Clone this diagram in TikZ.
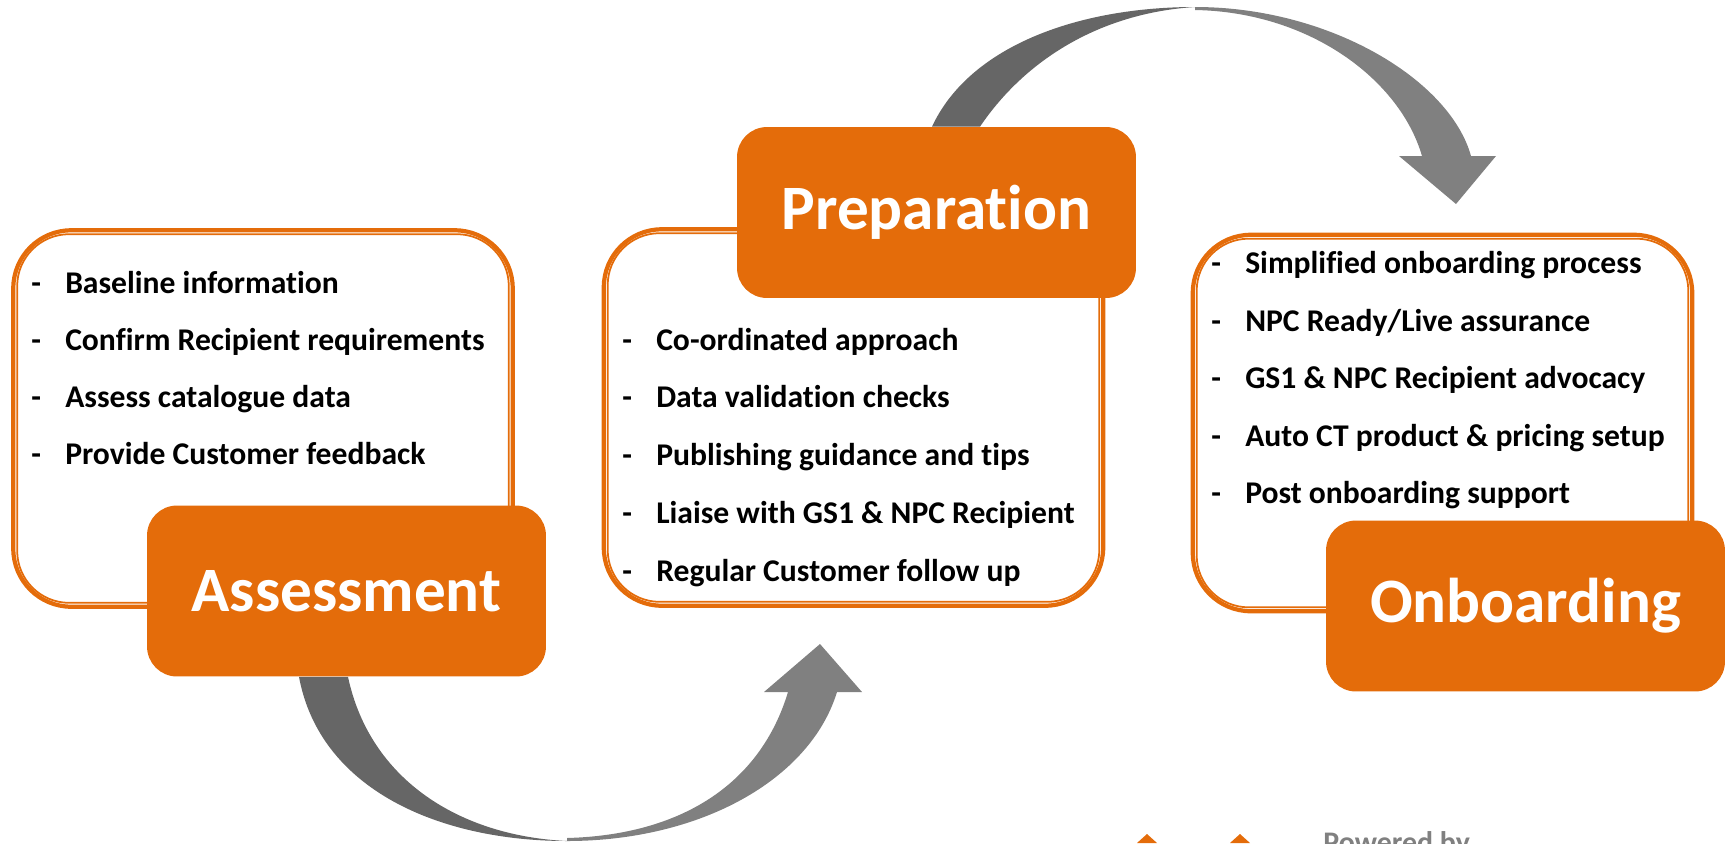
\documentclass[tikz,border=0pt]{standalone}
\usepackage{fontspec}
\setmainfont{Carlito}[Ligatures=NoCommon]
\usetikzlibrary{positioning}
\definecolor{boxorange}{HTML}{E46C0A}
\definecolor{arrowdark}{HTML}{666666}
\definecolor{arrowlight}{HTML}{808080}
\tikzset{
  listbox/.style={draw=boxorange, line width=2.4pt, fill=white, rounded corners=1.16cm,
    minimum width=9.99cm, minimum height=7.53cm},
  innerline/.style={draw=boxorange, line width=1pt, rounded corners=1.04cm},
  phase/.style={fill=boxorange, text=white, rounded corners=0.6cm, minimum width=7.98cm,
    minimum height=3.42cm, font=\fontsize{36}{43}\selectfont\bfseries},
  item/.style={anchor=base west, inner sep=0pt, font=\fontsize{18}{22}\selectfont\bfseries},
}
\newcommand{\dashitem}[1]{\makebox[19.3pt][l]{-}#1}

\begin{document}
\begin{tikzpicture}[x=0.02cm, y=-0.02cm]
\useasboundingbox (0,0) rectangle (1729,843);
\clip (0,0) rectangle (1729,843);

% list boxes
\node[listbox] (assessbox) at (263,418.5) {};
\node[listbox] (prepbox) at (853.5,417.5) {};
\node[listbox] (onbbox) at (1442.5,423) {};
\foreach \b in {assessbox,prepbox,onbbox}
  \draw[innerline] ([shift={(6,6)}]\b.north west) rectangle ([shift={(-6,-6)}]\b.south east);

% phase labels
\node[phase] (assess) at (346.5,591) {Assessment};
\node[phase] (prep) at (936.5,212.5) {Preparation};
\node[phase] (onb) at (1525.5,606) {Onboarding};

% curved arrows
\fill[arrowdark] (299,0 |- assess.south) .. controls (320,790) and (440,841) .. (567,841)
  .. controls (460,836) and (370,780) .. (348,0 |- assess.south) -- cycle;
\fill[arrowlight] (567,841) .. controls (700,841) and (810,780) .. (837,692)
  -- (862,692) -- (820,644) -- (764,692) -- (788,692)
  .. controls (760,785) and (680,835) .. (567,838) -- cycle;
\fill[arrowdark] (932,0 |- prep.north) .. controls (970,45) and (1080,7) .. (1195,7)
  .. controls (1100,13) and (1025,60) .. (980,0 |- prep.north) -- cycle;
\fill[arrowlight] (1195,7) .. controls (1330,7) and (1450,80) .. (1471,156)
  -- (1496,156) -- (1456,204) -- (1399,156) -- (1422,156)
  .. controls (1400,80) and (1310,12) .. (1195,10) -- cycle;

% list items
\foreach \t [count=\i] in {Baseline information, Confirm Recipient requirements,
    Assess catalogue data, Provide Customer feedback}
  \node[item] (assess\i) at (31,{293+57.3*(\i-1)}) {\dashitem{\t}};
\foreach \t [count=\i] in {Co-ordinated approach, Data validation checks,
    Publishing guidance and tips, Liaise with GS1 \& NPC Recipient, Regular Customer follow up}
  \node[item] (prep\i) at (622,{350+57.9*(\i-1)}) {\dashitem{\t}};
\foreach \t [count=\i] in {Simplified onboarding process, NPC Ready/Live assurance,
    GS1 \& NPC Recipient advocacy, Auto CT product \& pricing setup, Post onboarding support}
  \node[item] (onb\i) at (1211,{273.5+57.6*(\i-1)}) {\dashitem{\t}};

% footer
\node[anchor=base west, inner sep=0pt, text=arrowlight, font=\fontsize{17}{20}\selectfont\bfseries]
  (powered) at (1323,852) {Powered by};
\fill[boxorange] (1137,843) -- (1147,834) -- (1157,843) -- cycle;
\fill[boxorange] (1230,843) -- (1240,834) -- (1250,843) -- cycle;
\end{tikzpicture}
\end{document}
